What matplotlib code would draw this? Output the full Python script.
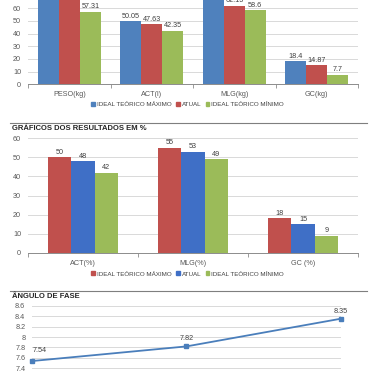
import matplotlib
matplotlib.use("Agg")
import matplotlib.pyplot as plt
import numpy as np
from matplotlib.patches import Patch
from matplotlib.lines import Line2D

plt.rcParams["font.family"] = ["Liberation Sans", "DejaVu Sans"]

# chart 1 - results in kg (top part of the chart is cut off in the source)
cats_kg = ["PESO(kg)", "ACT(l)", "MLG(kg)", "GC(kg)"]
max_kg = [76.5, 50.05, 68.45, 18.4]
atual_kg = [77.02, 47.63, 62.15, 14.87]
min_kg = [57.31, 42.35, 58.6, 7.7]

# chart 2 - results in %
cats_pct = ["ACT(%)", "MLG(%)", "GC (%)"]
max_pct = [50, 55, 18]
atual_pct = [48, 53, 15]
min_pct = [42, 49, 9]

# chart 3 - phase angle
fase = [7.54, 7.82, 8.35]

leg_names = ["IDEAL TEÓRICO MÁXIMO", "ATUAL", "IDEAL TEÓRICO MÍNIMO"]

BLUE = "#4F81BD"
BLUE2 = "#3F6FC6"
RED = "#C0504D"
GREEN = "#9BBB59"
GRID = "#D9D9D9"
AXC = "#8C8C8C"
TXT = "#595959"
LBL = "#404040"
FS = 5.2
FSL = 4.5

W = 375.0
def box(x0, x1, y_top, y_bot):
    # pixel box -> figure fraction
    return [x0 / W, 1 - y_bot / W, (x1 - x0) / W, (y_bot - y_top) / W]

fig = plt.figure(figsize=(3.75, 3.75), dpi=100)


def bar_chart(ax, cats, series, colors, ymax, ytop, step, bw, label_max):
    x = np.arange(len(cats))
    n = len(series)
    for i, (vals, c) in enumerate(zip(series, colors)):
        xs = x + (i - (n - 1) / 2) * bw
        ax.bar(xs, vals, bw, color=c, zorder=3)
        for xx, v in zip(xs, vals):
            if v > label_max:
                continue  # label falls outside the cropped page
            ax.text(xx, v + ymax * 0.012, f"{v:g}", ha="center", va="bottom",
                    fontsize=FS, color=LBL, zorder=4)
    ax.set_xlim(-0.5, len(cats) - 0.5)
    ax.set_ylim(0, ymax)
    yt = np.arange(0, ytop + 0.1, step)
    ax.set_yticks(yt)
    ax.set_yticklabels([f"{v:g}" for v in yt])
    ax.yaxis.grid(True, color=GRID, lw=0.7, zorder=0)
    ax.set_xticks(x)
    ax.set_xticklabels(cats)
    ax.set_xticks(np.arange(-0.5, len(cats)), minor=True)
    ax.tick_params(axis="x", which="major", length=0, labelsize=FS, colors=TXT, pad=5)
    ax.tick_params(axis="x", which="minor", length=3, color=AXC)
    ax.tick_params(axis="y", length=0, labelsize=FS, colors=TXT, pad=5)
    for s in ["top", "right", "left"]:
        ax.spines[s].set_visible(False)
    ax.spines["bottom"].set_color(AXC)
    ax.spines["bottom"].set_linewidth(0.7)
    ax.set_facecolor("none")


# chart 1: value 0 at y=84.3px, 1.267 px per unit, axis max 80 (page cut above ~66)
ax1 = fig.add_axes(box(28, 358, 84.3 - 80 * 1.267, 84.3))
bar_chart(ax1, cats_kg, [max_kg, atual_kg, min_kg], [BLUE, RED, GREEN], 80, 60, 10, 0.255, 64)
h1 = [Patch(color=c) for c in [BLUE, RED, GREEN]]
fig.legend(h1, leg_names, loc="center", bbox_to_anchor=(187.5 / W, 1 - 104.5 / W),
           ncol=3, frameon=False, fontsize=FSL, handlelength=0.6, handleheight=0.6,
           handletextpad=0.3, columnspacing=0.7, labelcolor=LBL)

# separator + title chart 2
fig.add_artist(Line2D([10 / W, 367 / W], [1 - 123 / W] * 2, color="#7F7F7F", lw=0.8))
fig.text(12 / W, 1 - 128.5 / W, "GRÁFICOS DOS RESULTADOS EM %", fontsize=5.5,
         fontweight="bold", color="#262626", va="center", ha="left")

# chart 2
ax2 = fig.add_axes(box(28, 358, 138.3, 252.7))
bar_chart(ax2, cats_pct, [max_pct, atual_pct, min_pct], [RED, BLUE2, GREEN], 60, 60, 10, 0.212, 60)
h2 = [Patch(color=c) for c in [RED, BLUE2, GREEN]]
fig.legend(h2, leg_names, loc="center", bbox_to_anchor=(187.5 / W, 1 - 274 / W),
           ncol=3, frameon=False, fontsize=FSL, handlelength=0.6, handleheight=0.6,
           handletextpad=0.3, columnspacing=0.7, labelcolor=LBL)

# separator + title chart 3
fig.add_artist(Line2D([10 / W, 367 / W], [1 - 291 / W] * 2, color="#7F7F7F", lw=0.8))
fig.text(12 / W, 1 - 296 / W, "ÂNGULO DE FASE", fontsize=5.5,
         fontweight="bold", color="#262626", va="center", ha="left")

# chart 3: 7.4 at 368.3px, 8.6 at 305.7px
ppu = (368.3 - 305.7) / 1.2
ax3 = fig.add_axes(box(32.3, 340.7, 305.7, 368.3 + 0.2 * ppu))
xs = np.arange(len(fase))
ax3.plot(xs, fase, color="#4A7EBB", lw=1.3, marker="s", ms=2.6, zorder=3, clip_on=False)
for i, v in enumerate(fase):
    if i == 0:
        ax3.annotate(f"{v:g}", (i, v), xytext=(0, 5), textcoords="offset points",
                     ha="left", va="bottom", fontsize=FS, color=LBL)
    else:
        ax3.annotate(f"{v:g}", (i, v), xytext=(0, 3), textcoords="offset points",
                     ha="center", va="bottom", fontsize=FS, color=LBL)
ax3.set_xlim(0, 2)
ax3.set_ylim(7.2, 8.6)
yt = [7.4, 7.6, 7.8, 8.0, 8.2, 8.4, 8.6]
ax3.set_yticks(yt)
ax3.set_yticklabels([f"{v:g}" for v in yt])
ax3.yaxis.grid(True, color=GRID, lw=0.7, zorder=0)
ax3.set_xticks([])
ax3.tick_params(axis="y", length=0, labelsize=FS, colors=TXT, pad=5)
for s in ax3.spines.values():
    s.set_visible(False)
ax3.set_facecolor("none")

fig.savefig("out.png", dpi=100)
